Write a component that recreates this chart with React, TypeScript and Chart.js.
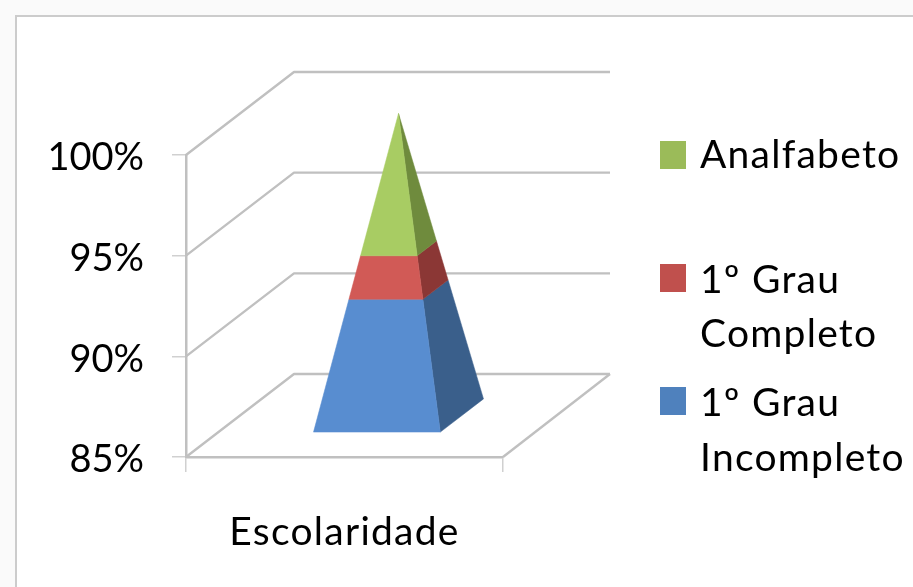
import React, { useEffect, useRef } from "react";
import { Chart, registerables } from "chart.js";

Chart.register(...registerables);

const categories = ["Escolaridade"];
const seriesNames = ["1º Grau Incompleto", "1º Grau Completo", "Analfabeto"];
const incompleto = [91.25];
const completo = [2.05];
const analfabeto = [6.7];
const legendColors = ["#4f81bd", "#c0504d", "#9bbb59"];
const frontColors = ["#588dd0", "#d15a56", "#a8cc63"];
const sideColors = ["#3a5f8b", "#8b3735", "#6f8b3d"];
const legendLines = [["1º Grau", "Incompleto"], ["1º Grau", "Completo"], ["Analfabeto"]];

const FONT = "Lato, 'Open Sans', sans-serif";
const LABEL_SIZE = 39;
const TICK_SIZE = 38;
const LABEL_SPACING = "1.25px";
const GRID = "#c0c0c0";
const DEPTH_X = 108;
const DEPTH_Y = -83;

const pyramidPlugin = {
  id: "pyramid3d",
  beforeDatasetsDraw(chart: any) {
    const { ctx, scales, chartArea } = chart;
    const yScale = scales.y;
    // Back wall and floor
    ctx.save();
    ctx.strokeStyle = GRID;
    ctx.lineWidth = 2.4;
    ctx.lineJoin = "round";
    yScale.ticks.forEach((t: any) => {
      const y = yScale.getPixelForValue(t.value);
      ctx.beginPath();
      ctx.moveTo(chartArea.left, y);
      ctx.lineTo(chartArea.left + DEPTH_X, y + DEPTH_Y);
      ctx.lineTo(chartArea.right + DEPTH_X - 1, y + DEPTH_Y);
      ctx.stroke();
    });
    ctx.beginPath();
    ctx.moveTo(chartArea.right, chartArea.bottom);
    ctx.lineTo(chartArea.right + DEPTH_X - 1, chartArea.bottom + DEPTH_Y);
    ctx.stroke();

    // Pyramid: stacked segments read from the bar elements
    const metas = chart.data.datasets.map((_: any, i: number) => chart.getDatasetMeta(i).data[0]);
    const base = yScale.getPixelForValue(yScale.min);
    const apex = metas[metas.length - 1].y;
    const halfW = metas[0].width / 2;
    const halfD = 0.2;
    const corner = (yPix: number, sx: number, sd: number) => {
      const k = (yPix - apex) / (base - apex);
      return {
        x: metas[0].x + DEPTH_X * 0.5 + sx * halfW * k + sd * halfD * DEPTH_X * k,
        y: yPix + DEPTH_Y * 0.5 + sd * halfD * DEPTH_Y * k,
      };
    };
    const poly = (pts: { x: number; y: number }[], color: string) => {
      ctx.fillStyle = color;
      ctx.strokeStyle = color;
      ctx.lineWidth = 0.5;
      ctx.beginPath();
      pts.forEach((p, i) => (i ? ctx.lineTo(p.x, p.y) : ctx.moveTo(p.x, p.y)));
      ctx.closePath();
      ctx.fill();
      ctx.stroke();
    };
    metas.forEach((el: any, i: number) => {
      const bottom = i === 0 ? base : metas[i - 1].y;
      const top = el.y;
      poly(
        [corner(bottom, 1, -1), corner(bottom, 1, 1), corner(top, 1, 1), corner(top, 1, -1)],
        sideColors[i]
      );
      poly(
        [corner(bottom, -1, -1), corner(bottom, 1, -1), corner(top, 1, -1), corner(top, -1, -1)],
        frontColors[i]
      );
    });

    // Legend
    const boxTops = [387, 264, 141];
    const baselines = [[416, 471], [293, 347], [168]];
    ctx.font = `${LABEL_SIZE}px ${FONT}`;
    ctx.letterSpacing = LABEL_SPACING;
    ctx.textBaseline = "alphabetic";
    ctx.textAlign = "left";
    chart.data.datasets.forEach((ds: any, i: number) => {
      ctx.fillStyle = ds.backgroundColor;
      ctx.fillRect(660, boxTops[i], 26, 28);
      ctx.fillStyle = "#000000";
      legendLines[i].forEach((line, j) => ctx.fillText(line, 700, baselines[i][j]));
    });
    ctx.letterSpacing = "0px";
    ctx.restore();
    return false;
  },
};

export default function App() {
  const ref = useRef<HTMLCanvasElement | null>(null);
  useEffect(() => {
    if (!ref.current) return;
    const chart = new Chart(ref.current, {
      type: "bar",
      data: {
        labels: categories,
        datasets: [
          { label: seriesNames[0], data: incompleto, backgroundColor: legendColors[0] },
          { label: seriesNames[1], data: completo, backgroundColor: legendColors[1] },
          { label: seriesNames[2], data: analfabeto, backgroundColor: legendColors[2] },
        ],
      },
      options: {
        responsive: false,
        animation: false,
        events: [],
        layout: { autoPadding: false, padding: { left: 0, top: 155, right: 410, bottom: 0 } },
        datasets: { bar: { barPercentage: 1, categoryPercentage: 0.4 } },
        plugins: { legend: { display: false }, title: { display: false }, tooltip: { enabled: false } },
        scales: {
          x: {
            stacked: true,
            afterFit: (s: any) => {
              s.height = 130;
              if (!s.__spaced) {
                s.__spaced = true;
                const orig = s.drawLabels.bind(s);
                s.drawLabels = (area: any) => {
                  s.ctx.letterSpacing = LABEL_SPACING;
                  orig(area);
                  s.ctx.letterSpacing = "0px";
                };
              }
            },
            grid: { offset: true, drawOnChartArea: false, tickLength: 15, color: "#d0d0d0", lineWidth: 1.5 },
            border: { color: GRID, width: 2.5 },
            ticks: { color: "#000000", padding: 37, maxRotation: 0, font: { family: FONT, size: LABEL_SIZE } },
          },
          y: {
            stacked: true,
            min: 85,
            max: 100,
            afterFit: (s: any) => { s.width = 186; },
            grid: { drawOnChartArea: false, tickLength: 14, color: "#d0d0d0", lineWidth: 1.5 },
            border: { color: GRID, width: 2.5 },
            ticks: {
              stepSize: 5,
              color: "#000000",
              padding: 28,
              labelOffset: 3,
              font: { family: FONT, size: TICK_SIZE },
              callback: (v: any) => `${v}%`,
            },
          },
        },
      },
      plugins: [pyramidPlugin],
    } as any);
    return () => chart.destroy();
  }, []);
  return (
    <div style={{ position: "absolute", left: 0, top: 0, width: 913, height: 587, background: "#fafafa", overflow: "hidden" }}>
      <div style={{ position: "absolute", left: 15, top: 15, width: 898, height: 572, background: "#ffffff", borderLeft: "2px solid #cccccc", borderTop: "2px solid #cccccc", boxSizing: "border-box" }} />
      <canvas ref={ref} width={913} height={587} style={{ position: "absolute", left: 0, top: 0, display: "block", filter: "blur(0.5px)" }} />
    </div>
  );
}
